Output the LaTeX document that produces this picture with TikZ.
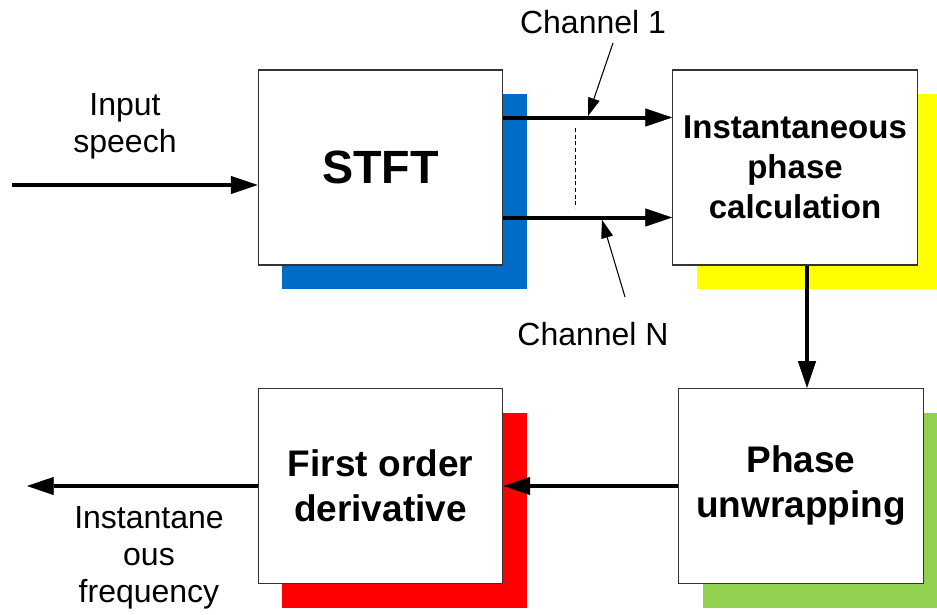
\documentclass[tikz,border=0pt]{standalone}
\usepackage{fontspec}
\setmainfont{Liberation Sans}
\usetikzlibrary{arrows.meta,calc,shadows}

\definecolor{shblue}{RGB}{0,108,198}
\definecolor{shyellow}{RGB}{255,255,0}
\definecolor{shgreen}{RGB}{146,208,80}
\definecolor{shred}{RGB}{255,0,0}

\begin{document}
\begin{tikzpicture}[x=0.75pt,y=-0.75pt,
  block/.style={draw=black!80, line width=0.9pt, fill=white,
    minimum width=183.5pt, minimum height=146.25pt, inner sep=0pt,
    align=center, font=\bfseries\fontsize{27.75}{33.75}\selectfont},
  backing/.style={drop shadow={shadow xshift=18pt, shadow yshift=-18pt,
    fill=#1, draw=none, opacity=1}},
  flow/.style={line width=3pt,
    -{Triangle[length=20pt,width=13.5pt,line width=0.4pt]}},
  pointer/.style={line width=0.8pt,
    -{Triangle[length=13.5pt,width=9pt,line width=0.2pt]}},
  lbl/.style={align=center, inner sep=0pt, font=\fontsize{24}{27.75}\selectfont}
]
\useasboundingbox (0,0) rectangle (937,614);
\clip (0,0) rectangle (937,614);
\fill[white] (0,0) rectangle (937,614);

% processing blocks with coloured backing plates
\node[block, backing=shblue] (stft) at (380.5,167.5)
  {\fontsize{35}{42}\selectfont STFT};
\node[block, backing=shyellow, font=\bfseries\fontsize{24.75}{29.8}\selectfont]
  (ipc) at (795,167.5) {Instantaneous\\phase\\calculation};
\node[block, backing=shgreen] (pu) at (801,486) {Phase\\unwrapping};
\node[block, backing=shred] (fod) at (380.5,486) {First order\\derivative};

% input signal
\coordinate (in) at (12,185);
\node[lbl] (inlbl) at (125,126) {Input\\speech};
\draw[flow] (in) -- (in -| stft.west);

% channel bank between STFT and phase calculation
\coordinate (c1) at ($(stft.east)+(0,-50)$);
\coordinate (cn) at ($(stft.east)+(0,50)$);
\draw[flow] (c1) -- (c1 -| ipc.west);
\draw[flow] (cn) -- (cn -| ipc.west);
\coordinate (d1) at (575,128);
\coordinate (d2) at (575,208);
\draw[line width=0.7pt, dash pattern=on 3pt off 2pt] (d1) -- (d2);

\node[lbl, anchor=base] (ch1) at (593,33) {Channel 1};
\node[lbl, anchor=base] (chn) at (593,345) {Channel N};
\coordinate (p1s) at (613,43);
\coordinate (p1e) at (588,116);
\coordinate (pns) at (625,297);
\coordinate (pne) at (602,220);
\draw[pointer] (p1s) -- (p1e);
\draw[pointer] (pns) -- (pne);

% phase calculation -> unwrapping -> derivative
\coordinate (v1) at ([xshift=9pt]ipc.south);
\draw[flow] (v1) -- (v1 |- pu.north);
\draw[flow] (pu.west) -- (fod.east);

% output
\coordinate (out) at (27,486);
\draw[flow] (fod.west) -- (out);
\node[lbl] (outlbl) at (149,558) {Instantane\\ous\\frequency};
\end{tikzpicture}
\end{document}
